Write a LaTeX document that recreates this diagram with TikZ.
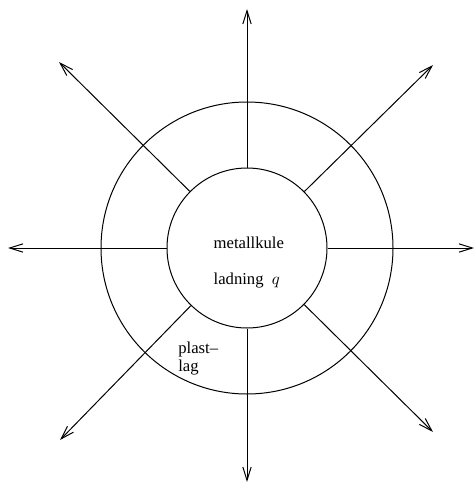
\documentclass[tikz,border=0pt]{standalone}
\usepackage{fontspec}
\setmainfont{Liberation Serif}
\usetikzlibrary{arrows.meta}
\tikzstyle{sphere} = [
    circle,
    inner sep=0pt,
    draw=black,
    line width=0.6pt
]
\tikzstyle{label} = [
    font=\fontsize{10}{12}\selectfont,
    inner sep=0pt,
    align=left,
    anchor=north west
]
\tikzstyle{arrow} = [line width=0.6pt,-{Straight Barb[length=8pt,width=5pt]}]

\begin{document}
\begin{tikzpicture}[x=0.6pt, y=-0.6pt]
\useasboundingbox (0,0) rectangle (474,483);

\node (lag) [sphere, minimum size=175.2pt] at (247,248) {};
\node (kule) [sphere, minimum size=96pt] at (247,248) {};

\node (txt) [label] at (213.3,237)
{metallkule\\[9.4pt]ladning~~$q$};

\node (plast) [label] at (178,342)
{plast--\\[-1.6pt]lag};

\coordinate (n) at (247,9);
\coordinate (s) at (247,482);
\coordinate (w) at (8,248);
\coordinate (e) at (474,248);
\coordinate (nw) at (59,62);
\coordinate (ne) at (433,65);
\coordinate (sw) at (60,440);
\coordinate (se) at (433,432);

\draw [arrow] (kule) -- (n);
\draw [arrow] (kule) -- (s);
\draw [arrow] (kule) -- (w);
\draw [arrow] (kule) -- (e);
\draw [arrow] (kule) -- (nw);
\draw [arrow] (kule) -- (ne);
\draw [arrow] (kule) -- (sw);
\draw [arrow] (kule) -- (se);

\end{tikzpicture}
\end{document}
